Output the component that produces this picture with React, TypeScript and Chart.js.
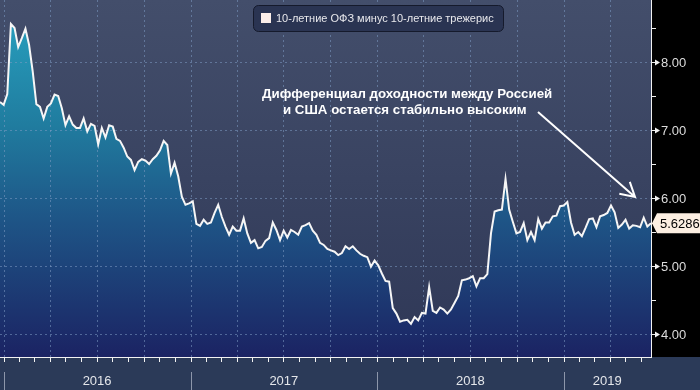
import React, { useEffect, useRef } from 'react';
import { Chart, registerables } from 'chart.js';

Chart.register(...registerables);

const SERIES_LABEL = '10-летние ОФЗ минус 10-летние трежерис';
const ANNOTATION_LINES = ['Дифференциал доходности между Россией', 'и США остается стабильно высоким'];
const YEARS = [2016, 2017, 2018, 2019];
const Y_TICKS = [4, 5, 6, 7, 8];
const Y_MINOR = [3.5, 4.5, 5.5, 6.5, 7.5, 8.5];
const START_DATE = '2015-12-25';
const END_DATE = '2019-06-21';

const VALUES = [
  7.41, 7.37, 7.53, 8.56, 8.5, 8.22, 8.35, 8.49, 8.25, 7.86,
  7.38, 7.34, 7.17, 7.34, 7.39, 7.52, 7.5, 7.32, 7.07, 7.2,
  7.08, 7.03, 7.03, 7.17, 6.98, 7.09, 7.06, 6.79, 7.03, 6.89,
  7.07, 7.05, 6.87, 6.84, 6.74, 6.61, 6.56, 6.41, 6.53, 6.57,
  6.55, 6.5, 6.57, 6.62, 6.7, 6.84, 6.78, 6.36, 6.52, 6.32,
  6.02, 5.9, 5.92, 5.95, 5.62, 5.59, 5.68, 5.62, 5.64, 5.78,
  5.9, 5.72, 5.58, 5.46, 5.58, 5.52, 5.52, 5.7, 5.48, 5.34,
  5.38, 5.26, 5.28, 5.37, 5.41, 5.64, 5.53, 5.38, 5.52, 5.42,
  5.53, 5.5, 5.46, 5.58, 5.6, 5.63, 5.52, 5.46, 5.34, 5.31,
  5.25, 5.23, 5.21, 5.16, 5.19, 5.29, 5.25, 5.29, 5.23, 5.18,
  5.15, 5.13, 4.99, 5.08, 5.01, 4.89, 4.78, 4.77, 4.38, 4.3,
  4.18, 4.2, 4.21, 4.15, 4.25, 4.2, 4.31, 4.3, 4.69, 4.34,
  4.31, 4.39, 4.36, 4.3, 4.36, 4.46, 4.56, 4.79, 4.8, 4.82,
  4.85, 4.7, 4.82, 4.82, 4.88, 5.48, 5.8, 5.82, 5.83, 6.28,
  5.83, 5.65, 5.48, 5.5, 5.63, 5.38, 5.5, 5.38, 5.69, 5.55,
  5.64, 5.64, 5.73, 5.74, 5.88, 5.89, 5.94, 5.64, 5.46, 5.5,
  5.44, 5.56, 5.69, 5.7, 5.57, 5.73, 5.75, 5.78, 5.89, 5.79,
  5.56, 5.61, 5.68, 5.55, 5.6, 5.59, 5.57, 5.71, 5.58, 5.6286,
];

const FONT = '"Liberation Sans", Arial, sans-serif';

export default function App() {
  const ref = useRef<HTMLCanvasElement>(null);

  useEffect(() => {
    document.body.style.margin = '0';
    const canvas = ref.current!;
    const n = VALUES.length;
    const t0 = Date.parse(START_DATE);
    const t1 = Date.parse(END_DATE);
    const idxOf = (t: number) => ((t - t0) / (t1 - t0)) * (n - 1);
    const data = VALUES.map((v, i) => ({ x: i, y: v }));

    const plugin = {
      id: 'bbgStyle',
      beforeDraw(chart: any) {
        const { ctx, chartArea: a, width, height } = chart;
        ctx.save();
        ctx.fillStyle = '#2b3a58';
        ctx.fillRect(0, 0, width, height);
        ctx.fillStyle = '#000000';
        ctx.fillRect(a.right, 0, width - a.right, a.bottom);
        const g = ctx.createLinearGradient(0, a.top, 0, a.bottom);
        g.addColorStop(0, '#434e6b');
        g.addColorStop(1, '#2f3857');
        ctx.fillStyle = g;
        ctx.fillRect(a.left, a.top, a.right - a.left, a.bottom - a.top);
        ctx.restore();
      },
      afterDatasetDraw(chart: any, args: any) {
        if (args.index !== 0) return;
        const { ctx, chartArea: a, scales } = chart;
        const xs = scales.x;
        const ys = scales.y;
        ctx.save();
        ctx.strokeStyle = 'rgba(125,155,195,0.55)';
        ctx.lineWidth = 1;
        ctx.setLineDash([2, 3]);
        for (const v of Y_TICKS) {
          const y = Math.round(ys.getPixelForValue(v)) + 0.5;
          ctx.beginPath();
          ctx.moveTo(a.left, y);
          ctx.lineTo(a.right, y);
          ctx.stroke();
        }
        for (let yr = 2016; yr <= 2019; yr++) {
          for (let m = 0; m < 12; m += 3) {
            const i = idxOf(Date.UTC(yr, m, 1));
            if (i <= 0.5 || i >= n - 1) continue;
            const x = Math.round(xs.getPixelForValue(i)) + 0.5;
            ctx.beginPath();
            ctx.moveTo(x, a.top);
            ctx.lineTo(x, a.bottom);
            ctx.stroke();
          }
        }
        ctx.restore();
      },
      afterDraw(chart: any) {
        const { ctx, chartArea: a, scales, width, height } = chart;
        const xs = scales.x;
        const ys = scales.y;
        ctx.save();
        // axis lines
        ctx.strokeStyle = '#f2f2f2';
        ctx.lineWidth = 1;
        ctx.beginPath();
        ctx.moveTo(a.left, a.bottom + 0.5);
        ctx.lineTo(a.right + 1, a.bottom + 0.5);
        ctx.moveTo(a.right + 0.5, a.top);
        ctx.lineTo(a.right + 0.5, a.bottom + 1);
        ctx.stroke();
        // monthly ticks
        ctx.beginPath();
        for (let yr = 2015; yr <= 2019; yr++) {
          for (let m = 0; m < 12; m++) {
            const i = idxOf(Date.UTC(yr, m, 1));
            if (i < 0 || i > n - 1) continue;
            const x = Math.round(xs.getPixelForValue(i)) + 0.5;
            ctx.moveTo(x, a.bottom);
            ctx.lineTo(x, a.bottom + 5);
          }
        }
        ctx.stroke();
        // year separators and labels
        ctx.strokeStyle = '#8d96aa';
        ctx.fillStyle = '#e4e6ea';
        ctx.font = `13px ${FONT}`;
        ctx.textAlign = 'center';
        ctx.textBaseline = 'middle';
        YEARS.forEach((yr) => {
          const b0 = Math.max(a.left, xs.getPixelForValue(idxOf(Date.UTC(yr, 0, 1))));
          const b1 = Math.min(a.right, xs.getPixelForValue(idxOf(Date.UTC(yr + 1, 0, 1))));
          const sx = Math.max(0.5, Math.round(b0) + 0.5);
          ctx.beginPath();
          ctx.moveTo(sx, a.bottom + 15);
          ctx.lineTo(sx, height);
          ctx.stroke();
          ctx.fillText(String(yr), (b0 + b1) / 2, a.bottom + 24);
        });
        // right axis ticks & labels
        ctx.strokeStyle = '#f0f0f0';
        ctx.fillStyle = '#f0f0f0';
        for (const v of Y_MINOR) {
          const y = Math.round(ys.getPixelForValue(v)) + 0.5;
          if (y < 0 || y > a.bottom) continue;
          ctx.beginPath();
          ctx.moveTo(a.right, y);
          ctx.lineTo(a.right + 5, y);
          ctx.stroke();
        }
        ctx.textAlign = 'left';
        ctx.font = `13px ${FONT}`;
        for (const v of Y_TICKS) {
          const y = Math.round(ys.getPixelForValue(v)) + 0.5;
          ctx.strokeStyle = '#f0f0f0';
          ctx.beginPath();
          ctx.moveTo(a.right, y);
          ctx.lineTo(a.right + 6, y);
          ctx.stroke();
          ctx.fillStyle = '#f0f0f0';
          ctx.beginPath();
          ctx.moveTo(a.right + 4, y - 3);
          ctx.lineTo(a.right + 9, y);
          ctx.lineTo(a.right + 4, y + 3);
          ctx.closePath();
          ctx.fill();
          ctx.fillStyle = '#dcdcdc';
          ctx.fillText(v.toFixed(2), a.right + 10, y + 1);
        }
        // last value label
        const last = VALUES[n - 1];
        const ly = ys.getPixelForValue(last);
        ctx.fillStyle = '#fcefe2';
        ctx.beginPath();
        ctx.moveTo(a.right + 1, ly);
        ctx.lineTo(a.right + 6, ly - 10);
        ctx.lineTo(width, ly - 10);
        ctx.lineTo(width, ly + 10);
        ctx.lineTo(a.right + 6, ly + 10);
        ctx.closePath();
        ctx.fill();
        ctx.fillStyle = '#000000';
        ctx.fillText(last.toFixed(4), a.right + 9, ly + 1);
        // legend box
        const lx = 253, lyTop = 5, lw = 250, lh = 26;
        ctx.beginPath();
        ctx.roundRect(lx + 0.5, lyTop + 0.5, lw, lh, 5);
        ctx.fillStyle = '#2a3452';
        ctx.fill();
        ctx.strokeStyle = '#151a2c';
        ctx.stroke();
        ctx.fillStyle = '#fbeee9';
        ctx.fillRect(lx + 8, lyTop + 8, 10, 10);
        ctx.fillStyle = '#e8e8ec';
        ctx.font = `11px ${FONT}`;
        ctx.textBaseline = 'middle';
        ctx.fillText(SERIES_LABEL, lx + 23, lyTop + 14);
        // annotation
        ctx.fillStyle = '#ffffff';
        ctx.font = `bold 13.3px ${FONT}`;
        ctx.textBaseline = 'alphabetic';
        ctx.fillText(ANNOTATION_LINES[0], 262, 98);
        ctx.fillText(ANNOTATION_LINES[1], 283, 114);
        // arrow
        const x0 = 538, y0 = 112, x1 = 635, y1 = 197;
        const ang = Math.atan2(y1 - y0, x1 - x0);
        ctx.strokeStyle = '#ffffff';
        ctx.lineWidth = 2;
        ctx.beginPath();
        ctx.moveTo(x0, y0);
        ctx.lineTo(x1, y1);
        ctx.moveTo(x1 - 16 * Math.cos(ang - 0.52), y1 - 16 * Math.sin(ang - 0.52));
        ctx.lineTo(x1, y1);
        ctx.lineTo(x1 - 16 * Math.cos(ang + 0.52), y1 - 16 * Math.sin(ang + 0.52));
        ctx.stroke();
        ctx.restore();
      },
    };

    const chart = new Chart(canvas, {
      type: 'line',
      data: {
        datasets: [
          {
            label: SERIES_LABEL + ' fill',
            data,
            order: 2,
            borderWidth: 0,
            pointRadius: 0,
            fill: 'start',
            backgroundColor: (c: any) => {
              const { ctx, chartArea } = c.chart;
              if (!chartArea) return 'rgba(0,0,0,0)';
              const g = ctx.createLinearGradient(0, chartArea.top, 0, chartArea.bottom);
              g.addColorStop(0, '#28a4c2');
              g.addColorStop(0.35, '#207c9f');
              g.addColorStop(0.62, '#1e5486');
              g.addColorStop(1, '#1b2363');
              return g;
            },
          },
          {
            label: SERIES_LABEL,
            data,
            order: 1,
            borderColor: '#f6f6f6',
            borderWidth: 2,
            pointRadius: 0,
            fill: false,
            tension: 0,
          },
        ],
      },
      options: {
        responsive: false,
        animation: false,
        devicePixelRatio: 1,
        layout: { padding: 0 },
        plugins: { legend: { display: false }, tooltip: { enabled: false } },
        scales: {
          x: {
            type: 'linear',
            min: 0,
            max: VALUES.length - 1,
            ticks: { display: false },
            grid: { display: false },
            border: { display: false },
            afterFit: (s: any) => { s.height = 33; },
          },
          y: {
            position: 'right',
            min: 3.6618,
            max: 8.9118,
            ticks: { display: false },
            grid: { display: false },
            border: { display: false },
            afterFit: (s: any) => { s.width = 49; },
          },
        },
      },
      plugins: [plugin],
    } as any);

    return () => chart.destroy();
  }, []);

  return <canvas ref={ref} width={700} height={390} style={{ display: 'block' }} />;
}
